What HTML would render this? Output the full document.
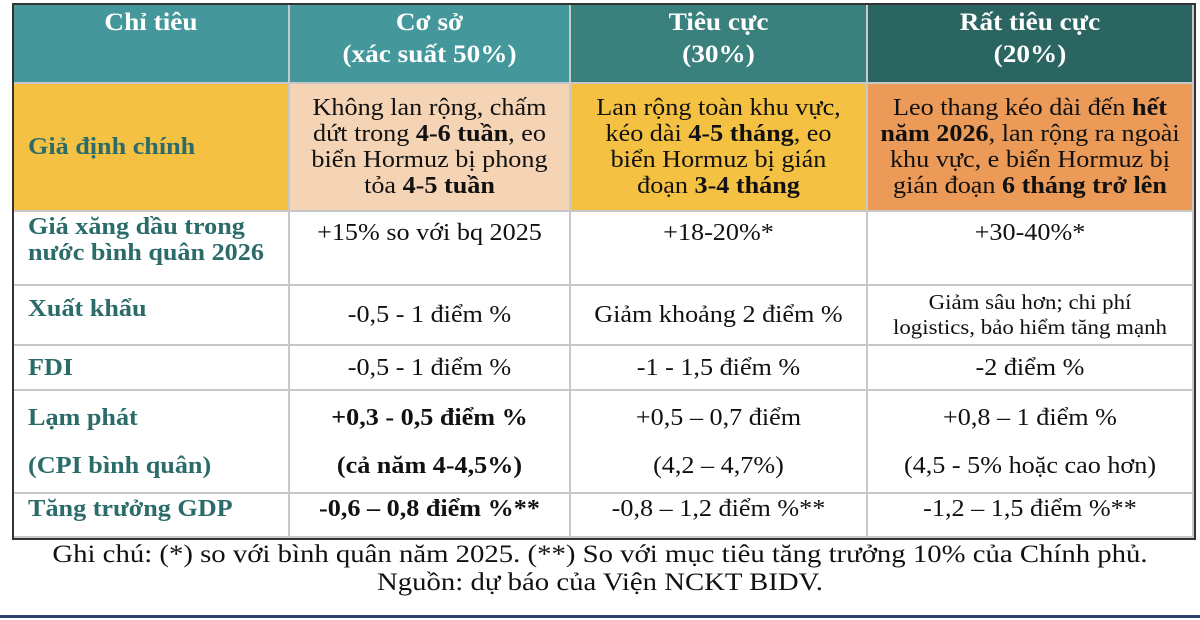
<!DOCTYPE html>
<html><head><meta charset="utf-8">
<style>
body{margin:0;width:1200px;height:620px;background:#fff;overflow:hidden;font-family:"Liberation Serif",serif;position:relative}
.c{position:absolute;box-sizing:border-box;display:flex;align-items:center;justify-content:center;text-align:center;font-size:24px;line-height:26px;color:#111;border-right:2px solid #c8c8c8;border-bottom:2px solid #c8c8c8}
.c>div{width:100%;white-space:nowrap;transform:scaleX(1.09)}
.l>div{transform-origin:left center}
.h{color:#fff;font-weight:bold;font-size:25px;line-height:32px;align-items:flex-start;padding-top:2px}
.l{justify-content:flex-start;padding-left:14px;text-align:left;color:#2b6b6a;font-weight:bold}
.t{align-items:flex-start;padding-top:8px}
b{font-weight:bold}
</style></head><body>
<div style="position:absolute;left:12px;top:3px;width:1184px;height:537px;border:2px solid #333;box-sizing:border-box"></div>
<div class="c h" style="left:14px;top:5px;width:276px;height:79px;background:#44979a"><div>Chỉ tiêu</div></div>
<div class="c h" style="left:290px;top:5px;width:281px;height:79px;background:#44979a"><div>Cơ sở<br>(xác suất 50%)</div></div>
<div class="c h" style="left:571px;top:5px;width:297px;height:79px;background:#3a807c"><div>Tiêu cực<br>(30%)</div></div>
<div class="c h" style="left:868px;top:5px;width:326px;height:79px;background:#2b6562"><div>Rất tiêu cực<br>(20%)</div></div>

<div class="c l" style="left:14px;top:84px;width:276px;height:128px;background:#f4c142"><div>Giả định chính</div></div>
<div class="c" style="left:290px;top:84px;width:281px;height:128px;background:#f5d4b6"><div>Không lan rộng, chấm<br>dứt trong <b>4-6 tuần</b>, eo<br>biển Hormuz bị phong<br>tỏa <b>4-5 tuần</b></div></div>
<div class="c" style="left:571px;top:84px;width:297px;height:128px;background:#f4c142"><div>Lan rộng toàn khu vực,<br>kéo dài <b>4-5 tháng</b>, eo<br>biển Hormuz bị gián<br>đoạn <b>3-4 tháng</b></div></div>
<div class="c" style="left:868px;top:84px;width:326px;height:128px;background:#eb9b57"><div>Leo thang kéo dài đến <b>hết</b><br><b>năm 2026</b>, lan rộng ra ngoài<br>khu vực, e biển Hormuz bị<br>gián đoạn <b>6 tháng trở lên</b></div></div>

<div class="c l t" style="left:14px;top:212px;width:276px;height:74px;padding-top:2px"><div>Giá xăng dầu trong<br>nước bình quân 2026</div></div>
<div class="c t" style="left:290px;top:212px;width:281px;height:74px"><div>+15% so với bq 2025</div></div>
<div class="c t" style="left:571px;top:212px;width:297px;height:74px"><div>+18-20%*</div></div>
<div class="c t" style="left:868px;top:212px;width:326px;height:74px"><div>+30-40%*</div></div>

<div class="c l" style="left:14px;top:286px;width:276px;height:60px;align-items:flex-start;padding-top:10px"><div>Xuất khẩu</div></div>
<div class="c" style="left:290px;top:286px;width:281px;height:60px"><div>-0,5 - 1 điểm %</div></div>
<div class="c" style="left:571px;top:286px;width:297px;height:60px"><div>Giảm khoảng 2 điểm %</div></div>
<div class="c" style="left:868px;top:286px;width:326px;height:60px;font-size:21px;line-height:25px"><div>Giảm sâu hơn; chi phí<br>logistics, bảo hiểm tăng mạnh</div></div>

<div class="c l" style="left:14px;top:346px;width:276px;height:45px"><div>FDI</div></div>
<div class="c" style="left:290px;top:346px;width:281px;height:45px"><div>-0,5 - 1 điểm %</div></div>
<div class="c" style="left:571px;top:346px;width:297px;height:45px"><div>-1 - 1,5 điểm %</div></div>
<div class="c" style="left:868px;top:346px;width:326px;height:45px"><div>-2 điểm %</div></div>

<div class="c l" style="left:14px;top:391px;width:276px;height:103px;line-height:48px"><div>Lạm phát<br>(CPI bình quân)</div></div>
<div class="c" style="left:290px;top:391px;width:281px;height:103px;line-height:48px;font-weight:bold"><div>+0,3 - 0,5 điểm %<br>(cả năm 4-4,5%)</div></div>
<div class="c" style="left:571px;top:391px;width:297px;height:103px;line-height:48px"><div>+0,5 – 0,7 điểm<br>(4,2 – 4,7%)</div></div>
<div class="c" style="left:868px;top:391px;width:326px;height:103px;line-height:48px"><div>+0,8 – 1 điểm %<br>(4,5 - 5% hoặc cao hơn)</div></div>

<div class="c l t" style="left:14px;top:494px;width:276px;height:44px;padding-top:2px"><div>Tăng trưởng GDP</div></div>
<div class="c t" style="left:290px;top:494px;width:281px;height:44px;padding-top:2px;font-weight:bold"><div>-0,6 – 0,8 điểm %**</div></div>
<div class="c t" style="left:571px;top:494px;width:297px;height:44px;padding-top:2px"><div>-0,8 – 1,2 điểm %**</div></div>
<div class="c t" style="left:868px;top:494px;width:326px;height:44px;padding-top:2px"><div>-1,2 – 1,5 điểm %**</div></div>

<div style="position:absolute;left:0;top:541px;width:1200px;text-align:center;font-size:25px;line-height:28px;color:#111;transform:scaleX(1.15);white-space:nowrap">Ghi chú: (*) so với bình quân năm 2025. (**) So với mục tiêu tăng trưởng 10% của Chính phủ.<br>Nguồn: dự báo của Viện NCKT BIDV.</div>
<div style="position:absolute;left:0;top:615px;width:1200px;height:3px;background:#2d3e73"></div>
</body></html>
